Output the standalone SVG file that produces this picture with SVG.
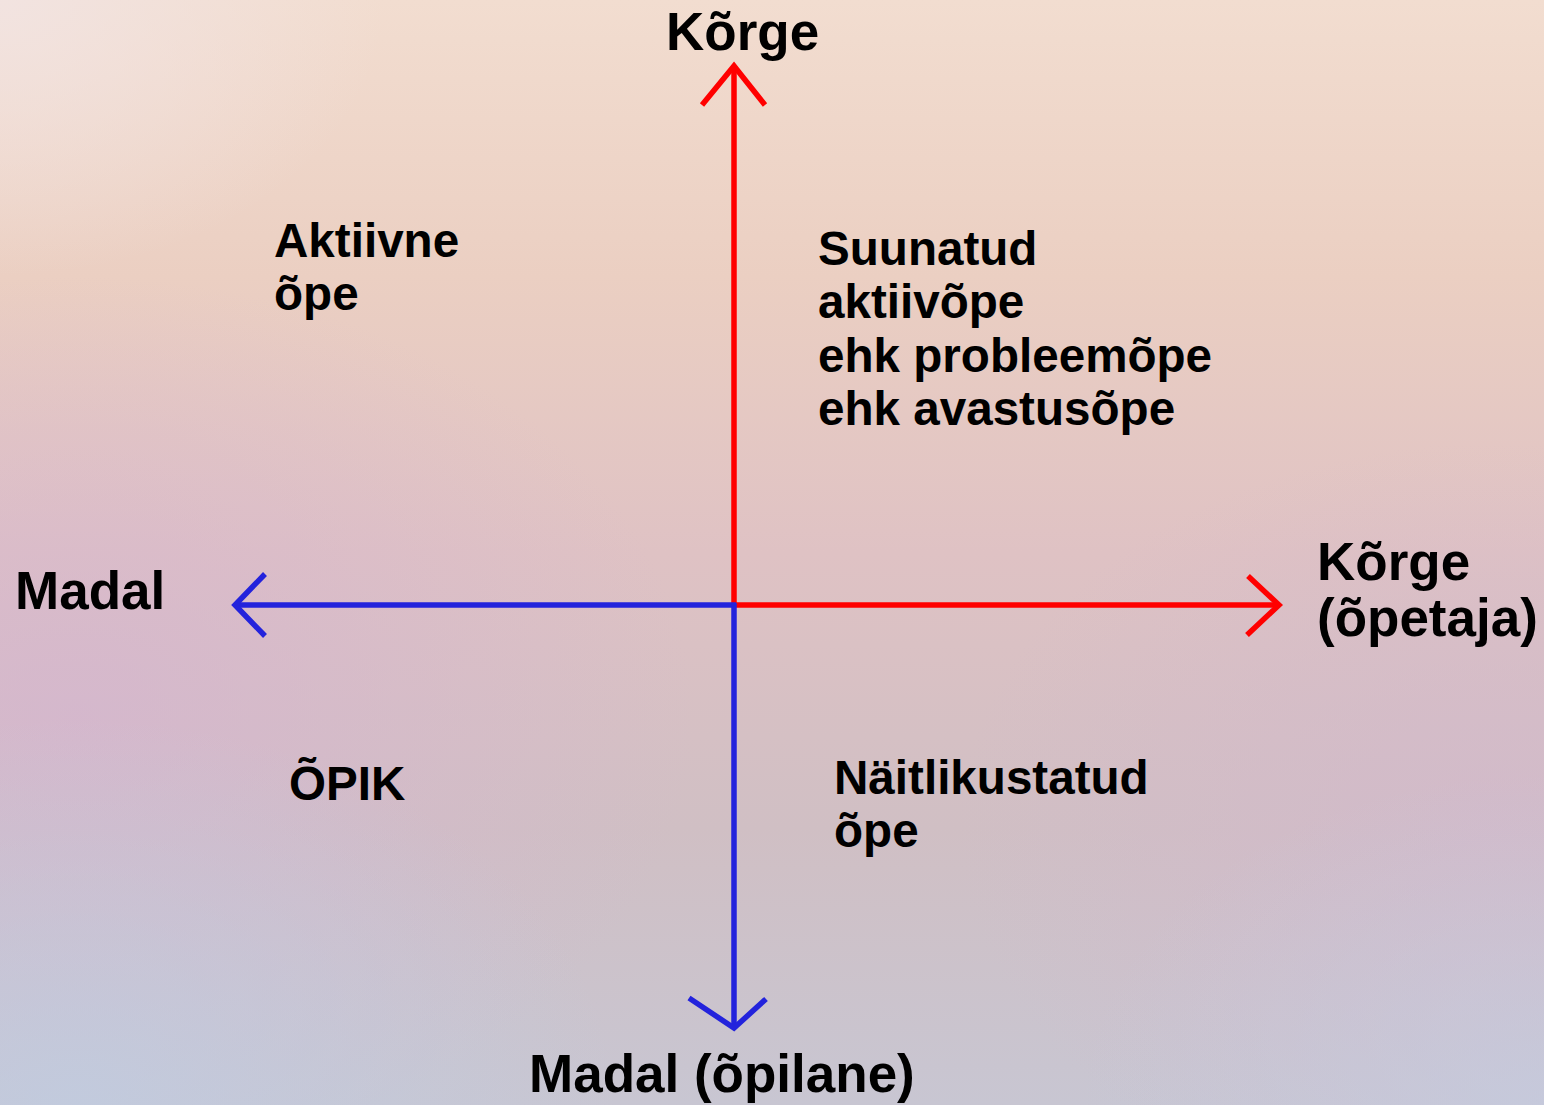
<svg xmlns="http://www.w3.org/2000/svg" width="1544" height="1105" viewBox="0 0 1544 1105">
<defs>
<linearGradient id="bg" x1="0" y1="0" x2="0" y2="1">
<stop offset="0" stop-color="#f2ddd0"/>
<stop offset="0.25" stop-color="#ebcfc2"/>
<stop offset="0.5" stop-color="#dfc2c4"/>
<stop offset="0.75" stop-color="#d0bfc4"/>
<stop offset="1" stop-color="#c8c6d2"/>
</linearGradient>
<radialGradient id="lv" cx="0.05" cy="0.65" r="0.4">
<stop offset="0" stop-color="#d4b4d0" stop-opacity="0.7"/>
<stop offset="1" stop-color="#d4b4d0" stop-opacity="0"/>
</radialGradient>
<radialGradient id="rv" cx="0.97" cy="0.75" r="0.35">
<stop offset="0" stop-color="#d2b8cc" stop-opacity="0.7"/>
<stop offset="1" stop-color="#d2b8cc" stop-opacity="0"/>
</radialGradient>
<radialGradient id="bl" cx="0.05" cy="1" r="0.35">
<stop offset="0" stop-color="#c0cce0" stop-opacity="0.8"/>
<stop offset="1" stop-color="#c0cce0" stop-opacity="0"/>
</radialGradient>
<radialGradient id="br" cx="1" cy="1" r="0.3">
<stop offset="0" stop-color="#c4cce0" stop-opacity="0.7"/>
<stop offset="1" stop-color="#c4cce0" stop-opacity="0"/>
</radialGradient>
<radialGradient id="tl" cx="0" cy="0" r="0.25">
<stop offset="0" stop-color="#f2e4e2" stop-opacity="0.9"/>
<stop offset="1" stop-color="#f2e4e2" stop-opacity="0"/>
</radialGradient>
</defs>
<style>
text{font-family:"Liberation Sans",Arial,sans-serif;font-weight:bold;fill:#000}
.ax{font-size:53px}
.q{font-size:47.6px}
.red{stroke:#ff0000;stroke-width:5.5;fill:none;stroke-linecap:butt}
.blue{stroke:#2323dc;stroke-width:5.5;fill:none}
</style>
<rect width="1544" height="1105" fill="url(#bg)"/>
<rect width="1544" height="1105" fill="url(#lv)"/>
<rect width="1544" height="1105" fill="url(#rv)"/>
<rect width="1544" height="1105" fill="url(#bl)"/>
<rect width="1544" height="1105" fill="url(#br)"/>
<rect width="1544" height="1105" fill="url(#tl)"/>
<g id="connectors">
<line class="red" x1="734" y1="605" x2="734" y2="67"/>
<polyline class="red" points="702,105 734,66 765,105"/>
<line class="red" x1="734" y1="605" x2="1278" y2="605"/>
<polyline class="red" points="1248,576 1279,605 1247,635"/>
<line class="blue" x1="736" y1="605" x2="236" y2="605"/>
<polyline class="blue" points="265,574 235,605 265,636"/>
<line class="blue" x1="734" y1="603" x2="734" y2="1026"/>
<polyline class="blue" points="689,998 734,1028 766,999"/>
</g>
<g id="label-top"><text class="ax" x="666" y="50">Kõrge</text></g>
<g id="label-left"><text class="ax" x="15" y="609">Madal</text></g>
<g id="label-right"><text class="ax" x="1317" y="580">Kõrge</text><text class="ax" x="1317" y="636">(õpetaja)</text></g>
<g id="label-bottom"><text class="ax" x="529" y="1092">Madal (õpilane)</text></g>
<g id="q-aktiivne"><text class="q" x="274" y="257">Aktiivne</text><text class="q" x="274" y="310">õpe</text></g>
<g id="q-suunatud">
<text class="q" x="818" y="265">Suunatud</text>
<text class="q" x="818" y="318">aktiivõpe</text>
<text class="q" x="818" y="372">ehk probleemõpe</text>
<text class="q" x="818" y="425">ehk avastusõpe</text>
</g>
<g id="q-opik"><text class="q" x="289" y="800">ÕPIK</text></g>
<g id="q-naitlik"><text class="q" x="834" y="794">Näitlikustatud</text><text class="q" x="834" y="847">õpe</text></g>
</svg>
